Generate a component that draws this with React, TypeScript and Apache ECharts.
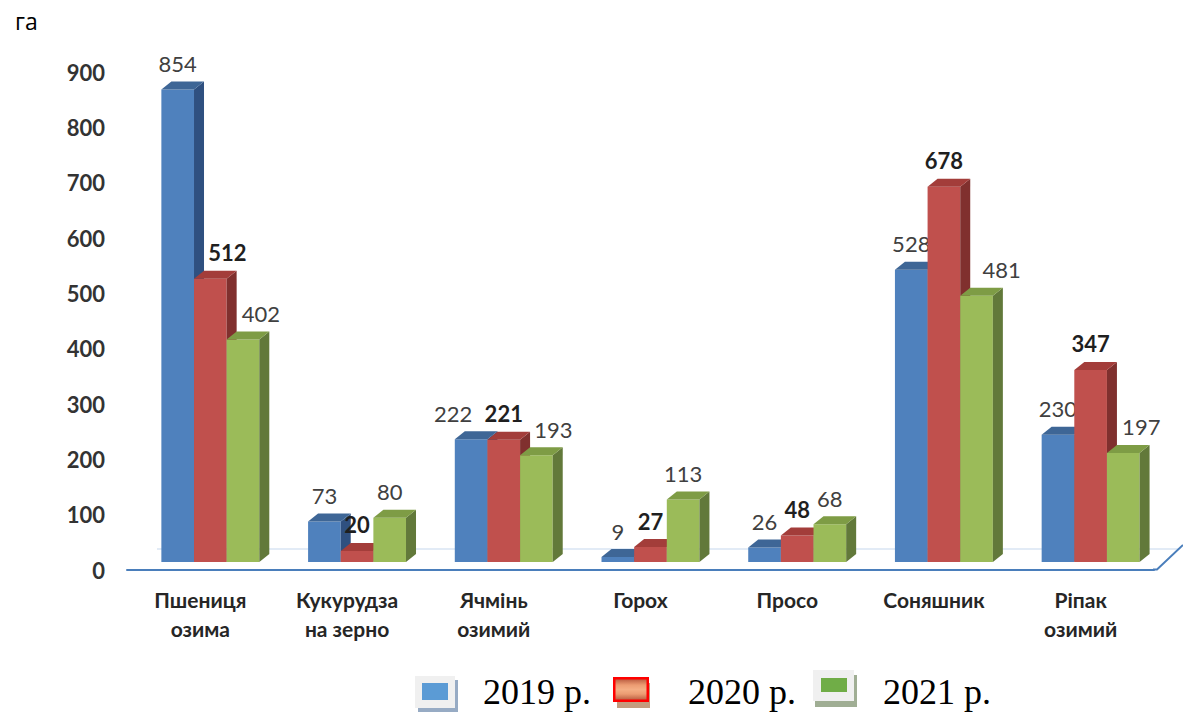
import React, { useEffect, useRef } from "react";
import * as echarts from "echarts";

// ---- data ----
const categories = [
  "Пшениця\nозима",
  "Кукурудза\nна зерно",
  "Ячмінь\nозимий",
  "Горох",
  "Просо",
  "Соняшник",
  "Ріпак\nозимий",
];
const years = ["2019 р.", "2020 р.", "2021 р."];
const values2019 = [854, 73, 222, 9, 26, 528, 230];
const values2020 = [512, 20, 221, 27, 48, 678, 347];
const values2021 = [402, 80, 193, 113, 68, 481, 197];
const yMin = 0;
const yMax = 900;
const yStep = 100;
const unitLabel = "га";

// ---- layout / style (not data) ----
const labelShiftX = [
  [0, 0, -18, 0, 0, 0, 0],
  [17, 0, 0, 0, 0, 0, 0],
  [18, 0, 17, 0, 0, 25, 18],
];
const frontColors = ["#4F81BD", "#C0504D", "#9BBB59"];
const topColors = ["#3E6696", "#A33D3A", "#7E9C45"];
const sideColors = ["#2F5080", "#80302E", "#62793A"];

const svgUri = (svg: string) =>
  "image://data:image/svg+xml;charset=utf-8," + encodeURIComponent(svg);

const blueIcon = svgUri(
  "<svg xmlns='http://www.w3.org/2000/svg' width='63' height='40' viewBox='0 0 63 40'>" +
    "<rect x='3' y='8' width='40' height='32' fill='#97ABC4'/>" +
    "<rect x='0' y='4' width='40' height='32' fill='#F0F0F0'/>" +
    "<rect x='7' y='11' width='26' height='17' fill='#5B9BD5'/>" +
    "</svg>"
);
const redIcon = svgUri(
  "<svg xmlns='http://www.w3.org/2000/svg' width='70' height='40' viewBox='0 0 70 40'>" +
    "<defs><linearGradient id='g' x1='0' y1='0' x2='0' y2='1'>" +
    "<stop offset='0' stop-color='#B4553A'/><stop offset='0.3' stop-color='#EC9C72'/>" +
    "<stop offset='0.5' stop-color='#F4AE84'/><stop offset='0.7' stop-color='#EC9C72'/>" +
    "<stop offset='1' stop-color='#B4553A'/></linearGradient></defs>" +
    "<rect x='4' y='11' width='33' height='25' fill='#C49C7E'/>" +
    "<rect x='1.25' y='6.25' width='33.5' height='22.5' fill='url(#g)' stroke='#FF0000' stroke-width='2.5'/>" +
    "</svg>"
);
const greenIcon = svgUri(
  "<svg xmlns='http://www.w3.org/2000/svg' width='65' height='48' viewBox='0 0 65 48'>" +
    "<rect x='2' y='7' width='42' height='32' fill='#A0AE94'/>" +
    "<rect x='0' y='2' width='41' height='31' fill='#F0F0F0'/>" +
    "<rect x='8' y='10' width='26' height='14' fill='#70AD47'/>" +
    "</svg>"
);

const allValues = [values2019, values2020, values2021];

function makeRenderItem() {
  return (params: any, api: any) => {
    const s = params.seriesIndex;
    const ci = api.value(0);
    const v = api.value(1);
    const base = api.coord([ci, 0]);
    const top = api.coord([ci, v]);
    const band = api.size([1, 0])[0];
    const bw = band * 0.2225;
    const shift = band * 0.068;
    const lift = 8;
    const dx = 10;
    const dy = 8;
    const x0 = base[0] + shift - 1.5 * bw + s * bw;
    const yB = base[1] - lift;
    const yT = top[1] - lift;
    const red = s === 1;
    return {
      type: "group",
      children: [
        {
          type: "rect",
          shape: { x: x0, y: yT, width: bw, height: yB - yT },
          style: { fill: frontColors[s] },
        },
        {
          type: "polygon",
          shape: {
            points: [
              [x0 + bw, yT],
              [x0 + bw + dx, yT - dy],
              [x0 + bw + dx, yB - dy],
              [x0 + bw, yB],
            ],
          },
          style: { fill: sideColors[s] },
        },
        {
          type: "polygon",
          shape: {
            points: [
              [x0, yT],
              [x0 + dx, yT - dy],
              [x0 + bw + dx, yT - dy],
              [x0 + bw, yT],
            ],
          },
          style: { fill: topColors[s] },
        },
        {
          type: "text",
          x: x0 + bw / 2 + labelShiftX[s][ci],
          y: yT - 26,
          style: {
            text: String(v),
            fill: red ? "#1F1F1F" : "#404040",
            fontSize: 22,
            fontFamily: "Lato",
            fontWeight: red ? "bold" : "normal",
            textAlign: "center",
            textVerticalAlign: "middle",
            align: "center",
            verticalAlign: "middle",
          },
        },
      ],
    };
  };
}

export default function App() {
  const ref = useRef<HTMLDivElement>(null);
  useEffect(() => {
    document.body.style.margin = "0";
    if (!ref.current) return;
    const chart = echarts.init(ref.current, null, { renderer: "svg" });
    const legendText = { fontFamily: "Liberation Serif", fontSize: 36, color: "#000" };
    const option: any = {
      animation: false,
      backgroundColor: "#ffffff",
      title: {
        text: unitLabel,
        left: 10,
        top: 4,
        textStyle: { fontFamily: "Open Sans", fontSize: 23, fontWeight: "normal", color: "#000" },
      },
      grid: { left: 127, right: 29, top: 72, bottom: 145, containLabel: false },
      xAxis: {
        type: "category",
        data: categories,
        axisTick: { show: false },
        axisLine: { lineStyle: { color: "#4A7EBB", width: 2 } },
        axisLabel: {
          interval: 0,
          margin: 15,
          fontFamily: "Lato",
          fontWeight: "bold",
          fontSize: 21,
          lineHeight: 29,
          color: "#262626",
        },
      },
      yAxis: {
        type: "value",
        min: yMin,
        max: yMax,
        interval: yStep,
        axisLine: { show: false },
        axisTick: { show: false },
        splitLine: { show: false },
        axisLabel: {
          margin: 22,
          fontFamily: "Lato",
          fontWeight: "bold",
          fontSize: 22,
          color: "#333333",
        },
      },
      legend: [
        {
          data: [{ name: years[0], icon: blueIcon }],
          left: 415,
          top: 672,
          padding: 0,
          itemWidth: 63,
          itemHeight: 40,
          selectedMode: false,
          textStyle: legendText,
        },
        {
          data: [{ name: years[1], icon: redIcon }],
          left: 613,
          top: 672,
          padding: 0,
          itemWidth: 70,
          itemHeight: 40,
          selectedMode: false,
          textStyle: legendText,
        },
        {
          data: [{ name: years[2], icon: greenIcon }],
          left: 813,
          top: 668,
          padding: 0,
          itemWidth: 65,
          itemHeight: 48,
          selectedMode: false,
          textStyle: legendText,
        },
      ],
      graphic: [
        {
          type: "line",
          shape: { x1: 157, y1: 549, x2: 1178, y2: 549 },
          style: { stroke: "#D9E5F3", lineWidth: 1.5 },
          z: 0,
        },
        {
          type: "polyline",
          shape: { points: [[1153, 569.5], [1157, 569.5], [1183, 545]] },
          style: { stroke: "#4A7EBB", lineWidth: 2, fill: null },
          z: 0,
        },
      ],
      series: years.map((name, s) => ({
        name,
        type: "custom",
        renderItem: makeRenderItem(),
        itemStyle: { color: frontColors[s] },
        encode: { x: 0, y: 1 },
        data: allValues[s].map((v, i) => [i, v]),
        z: 2,
      })),
    };
    chart.setOption(option);
    return () => chart.dispose();
  }, []);
  return <div ref={ref} style={{ width: 1183, height: 715 }} />;
}
